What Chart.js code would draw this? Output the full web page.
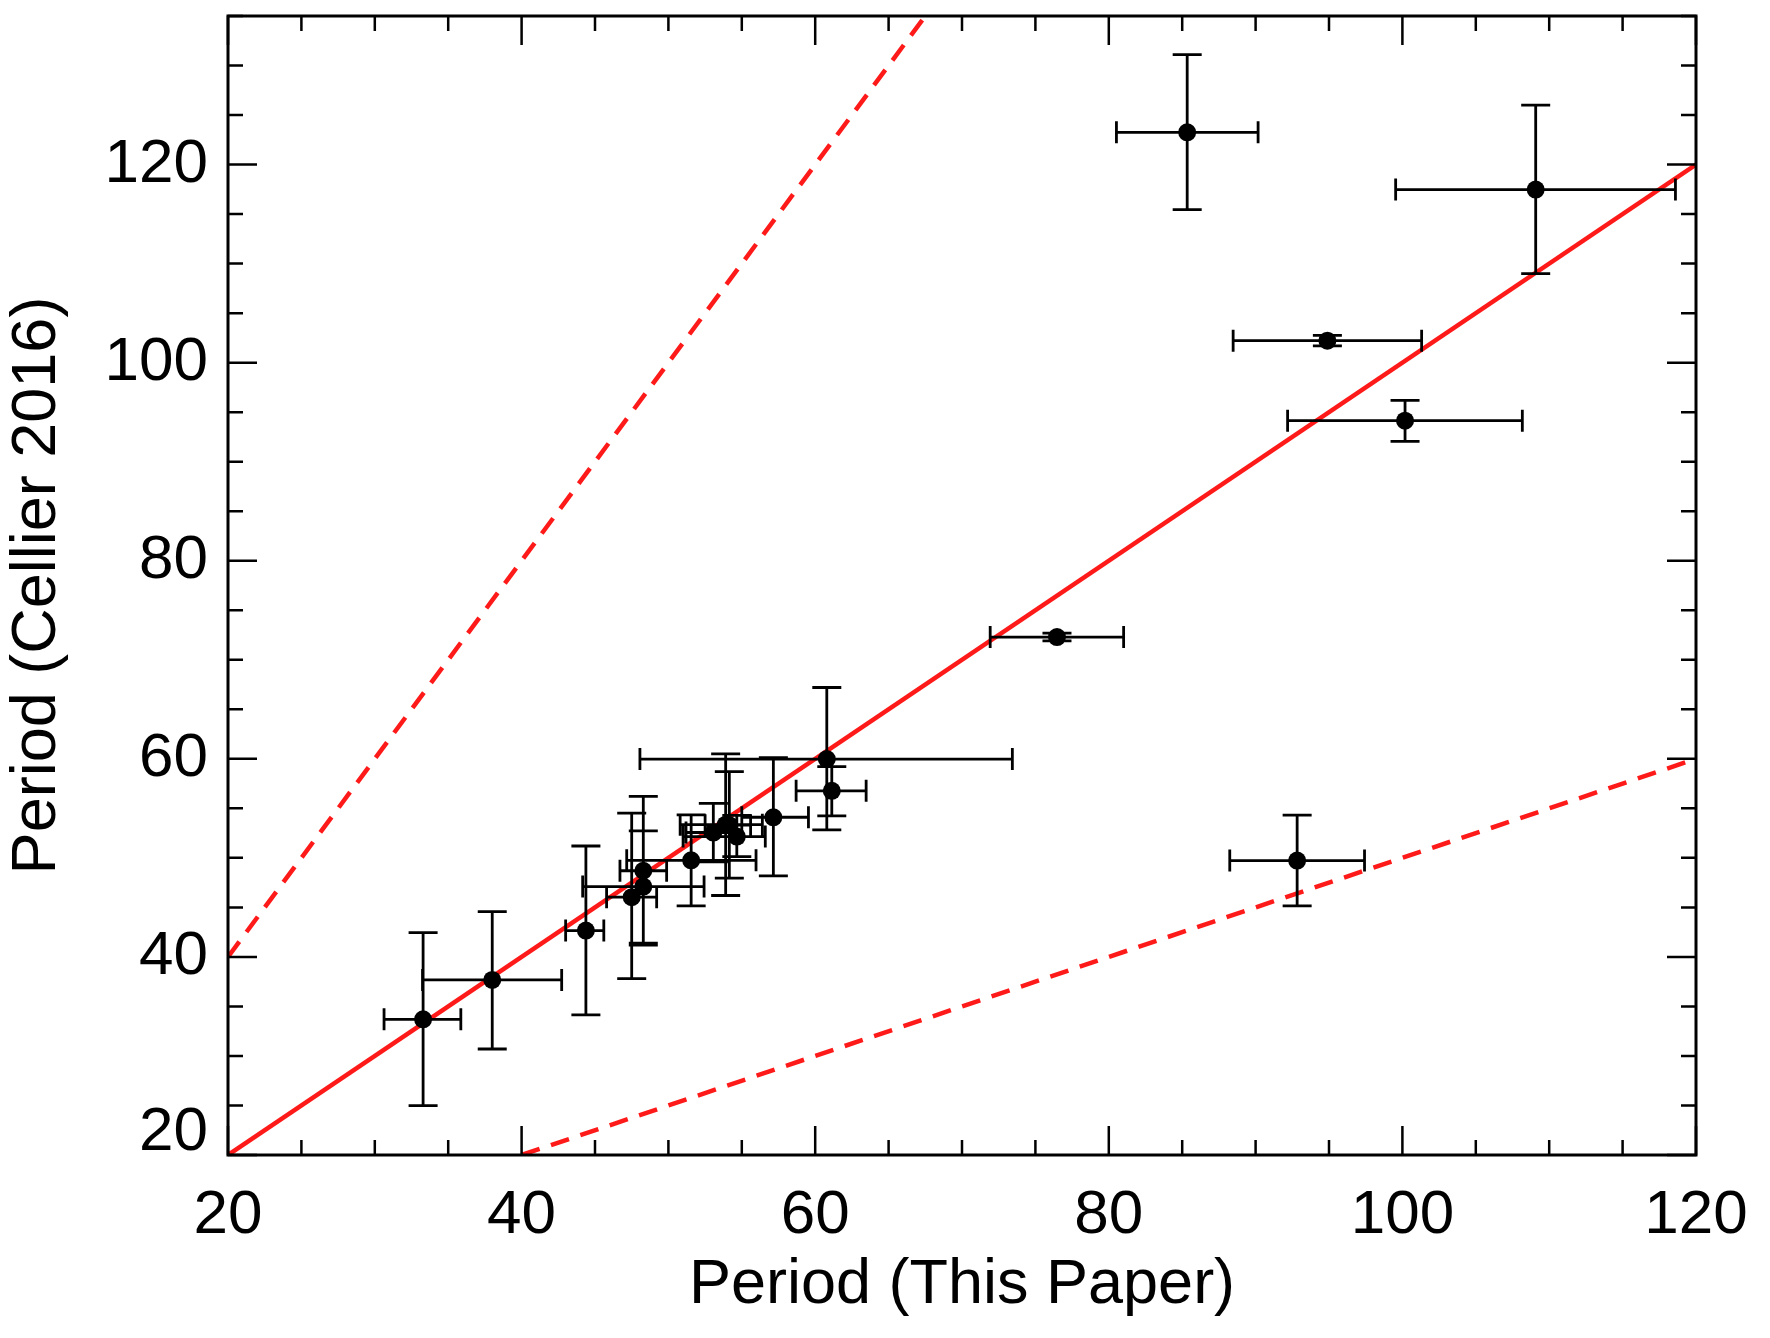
<!DOCTYPE html>
<html>
<head>
<meta charset="utf-8">
<script src="https://cdn.jsdelivr.net/npm/chart.js@4.4.1/dist/chart.umd.min.js"></script>
<style>
  html, body { margin: 0; padding: 0; background: #fff; }
  #wrap { width: 1770px; height: 1338px; }
</style>
</head>
<body>
<div id="wrap"><canvas id="periods"></canvas></div>
<script>
// periods: this paper (x) vs Cellier 2016 (y)
const periodThis    = [33.29, 38.0, 44.38, 47.5, 48.29, 48.29, 51.55, 53.06, 53.9, 54.15, 54.66, 57.15, 60.79, 61.13, 76.47, 85.34, 94.89, 100.18, 109.08, 92.83];
const periodCellier = [33.7, 37.68, 42.66, 46.03, 47.1, 48.7, 49.75, 52.56, 53.35, 53.3, 52.15, 54.1, 59.97, 56.77, 72.29, 123.26, 102.22, 94.14, 117.47, 49.73];
// error bar ends
const xLow  = [30.63, 33.25, 43.0, 45.79, 44.16, 46.7, 47.16, 51.2, 50.8, 52.5, 51.0, 55.0, 48.06, 58.7, 71.92, 80.52, 88.47, 92.18, 99.54, 88.24];
const xHigh = [35.86, 42.73, 45.6, 49.2, 52.43, 49.88, 55.97, 55.0, 56.4, 55.6, 56.6, 59.54, 73.43, 63.47, 81.01, 90.17, 101.31, 108.17, 118.6, 97.42];
const yLow  = [24.98, 30.7, 34.14, 37.8, 41.38, 41.2, 45.15, 49.6, 46.2, 47.95, 50.13, 48.18, 52.83, 54.24, 71.9, 115.45, 101.7, 92.05, 108.99, 45.15];
const yHigh = [42.45, 44.58, 51.2, 54.51, 52.73, 56.2, 54.34, 55.5, 60.5, 58.7, 54.3, 60.13, 67.2, 59.22, 72.7, 131.1, 102.76, 96.19, 126.0, 54.31];

// reference lines y = x, y = 2x, y = x/2
const oneToOne  = [{x: 20, y: 20}, {x: 120, y: 120}];
const twoToOne  = [{x: 20, y: 40}, {x: 67.5, y: 135}];
const halfToOne = [{x: 40, y: 20}, {x: 120, y: 60}];

const X_MIN = 20, X_MAX = 120, Y_MIN = 20, Y_MAX = 135;
const FONT = "'Liberation Sans', Arial, Helvetica, sans-serif";
const RED = '#ff1a1a';

const errorBars = {
    id: 'errorBars',
    beforeDatasetDraw(chart, args) {
        if (args.index !== 0) return;
        const {ctx, scales: {x, y}} = chart;
        ctx.save();
        ctx.strokeStyle = '#000';
        ctx.lineWidth = 2.8;
        ctx.beginPath();
        for (let i = 0; i < periodThis.length; i++) {
            const px = x.getPixelForValue(periodThis[i]);
            const py = y.getPixelForValue(periodCellier[i]);
            const x0 = x.getPixelForValue(xLow[i]), x1 = x.getPixelForValue(xHigh[i]);
            const y0 = y.getPixelForValue(yLow[i]), y1 = y.getPixelForValue(yHigh[i]);
            // horizontal
            ctx.moveTo(x0, py); ctx.lineTo(x1, py);
            ctx.moveTo(x0, py - 11); ctx.lineTo(x0, py + 11);
            ctx.moveTo(x1, py - 11); ctx.lineTo(x1, py + 11);
            // vertical
            ctx.moveTo(px, y0); ctx.lineTo(px, y1);
            ctx.moveTo(px - 14.5, y0); ctx.lineTo(px + 14.5, y0);
            ctx.moveTo(px - 14.5, y1); ctx.lineTo(px + 14.5, y1);
        }
        ctx.stroke();
        ctx.restore();
    }
};

// box round the plot with inward ticks on all four sides
const frame = {
    id: 'frame',
    afterDraw(chart) {
        const {ctx, chartArea: a, scales: {x, y}} = chart;
        ctx.save();
        ctx.strokeStyle = '#000';
        ctx.lineWidth = 2.5;
        ctx.beginPath();
        for (let v = X_MIN; v <= X_MAX; v += 5) {
            const p = x.getPixelForValue(v);
            const len = v % 20 === 0 ? 29 : 15;
            ctx.moveTo(p, a.bottom); ctx.lineTo(p, a.bottom - len);
            ctx.moveTo(p, a.top); ctx.lineTo(p, a.top + len);
        }
        for (let v = Y_MIN; v <= Y_MAX; v += 5) {
            const p = y.getPixelForValue(v);
            const len = v % 20 === 0 ? 29 : 15;
            ctx.moveTo(a.left, p); ctx.lineTo(a.left + len, p);
            ctx.moveTo(a.right, p); ctx.lineTo(a.right - len, p);
        }
        ctx.stroke();
        ctx.lineWidth = 3;
        ctx.strokeRect(a.left, a.top, a.right - a.left, a.bottom - a.top);
        ctx.restore();
    }
};

const refLine = (data, dash) => ({
    type: 'line',
    data: data,
    borderColor: RED,
    borderWidth: 4.5,
    borderDash: dash,
    pointRadius: 0,
    fill: false,
    order: 2
});

new Chart(document.getElementById('periods'), {
    type: 'scatter',
    data: {
        datasets: [
            {
                data: periodThis.map((v, i) => ({x: v, y: periodCellier[i]})),
                backgroundColor: '#000',
                borderColor: '#000',
                pointRadius: 9,
                pointBorderWidth: 0,
                order: 0
            },
            refLine(oneToOne, []),
            refLine(twoToOne, [19, 12]),
            refLine(halfToOne, [19, 12])
        ]
    },
    options: {
        responsive: true,
        maintainAspectRatio: false,
        devicePixelRatio: 1,
        animation: false,
        layout: { padding: { top: 16, right: 74, left: 0, bottom: 0 } },
        plugins: { legend: { display: false }, tooltip: { enabled: false } },
        scales: {
            x: {
                type: 'linear',
                min: X_MIN,
                max: X_MAX,
                grid: { display: false, drawTicks: false },
                border: { display: false },
                ticks: {
                    stepSize: 20,
                    includeBounds: false,
                    padding: 24,
                    color: '#000',
                    font: { family: FONT, size: 62 }
                },
                title: {
                    display: true,
                    text: 'Period (This Paper)',
                    color: '#000',
                    font: { family: FONT, size: 63 },
                    padding: { top: 0, bottom: 15 }
                },
                afterFit(scale) {
                    scale.height = 183;
                    scale.paddingLeft = 0;
                    scale.paddingRight = 0;
                }
            },
            y: {
                type: 'linear',
                min: Y_MIN,
                max: Y_MAX,
                grid: { display: false, drawTicks: false },
                border: { display: false },
                ticks: {
                    stepSize: 20,
                    includeBounds: false,
                    padding: 20,
                    color: '#000',
                    // the bottom label sits a little above its tick in the original
                    callback: v => v === 20 ? ['20', ''] : String(v),
                    font: c => ({ family: FONT, size: 62, lineHeight: (c.tick && c.tick.value === 20) ? 0.7 : 1.2 })
                },
                title: {
                    display: true,
                    text: 'Period (Cellier 2016)',
                    color: '#000',
                    font: { family: FONT, size: 63 },
                    padding: { top: 0, bottom: 0 }
                },
                afterFit(scale) {
                    scale.width = 228;
                    scale.paddingTop = 0;
                    scale.paddingBottom = 0;
                }
            }
        }
    },
    plugins: [errorBars, frame]
});
</script>
</body>
</html>
